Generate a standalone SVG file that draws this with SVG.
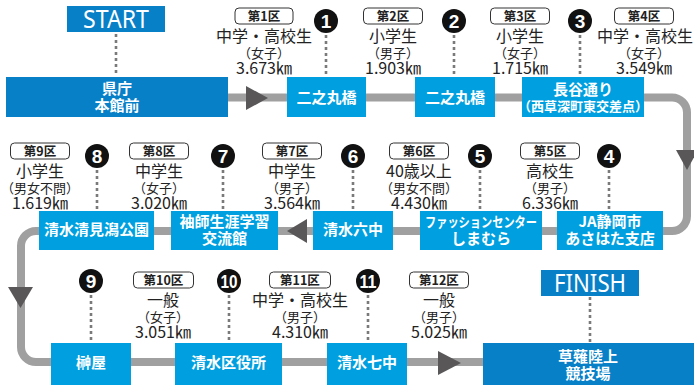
<svg xmlns="http://www.w3.org/2000/svg" width="694" height="385" viewBox="0 0 694 385">
<style>
text{font-family:"Noto Sans CJK JP","Noto Sans",sans-serif;text-anchor:middle}
.dk{fill:#0880C8}
.lt{fill:#00A0E0}
.bt{fill:#fff;font-size:15px;font-weight:bold}
.bt2{font-size:13px}
.tag{fill:#fff;stroke:#333;stroke-width:1}
.lg{fill:#222}
.tagt{font-size:12.5px;font-weight:bold}
.l1{font-size:16px}
.l2{font-size:13px}
.l3{font-size:16px}
.route{fill:none;stroke:#A0A0A0;stroke-width:8}
.dot{stroke:#7a7a7a;stroke-width:2.6;stroke-dasharray:3 3;fill:none}
.arr{fill:#595757}
.cir{fill:#111}
.cn{fill:#fff;font-size:19px;font-weight:bold;font-family:"Liberation Sans",sans-serif}
.big{fill:#fff;font-size:25px;font-family:"Noto Sans","Liberation Sans",sans-serif}
</style>
<rect width="694" height="385" fill="#fff"/>
<g id="connectors">
<path class="route" d="M228,97.5 H672 A15,15 0 0 1 687,112.5 V216 A15,15 0 0 1 672,231 H36 A15,15 0 0 0 21,246 V347 A15,15 0 0 0 36,362 H483"/>
<polygon class="arr" points="246,86 246,110 268,98"/>
<polygon class="arr" points="676,150 698,150 687,170"/>
<polygon class="arr" points="307,219 307,243 287,231"/>
<polygon class="arr" points="8,287 33,287 20.5,308"/>
<polygon class="arr" points="438,351 438,375 461,363"/>
<path class="dot" d="M116,34V76 M326,35V76 M454,35V76 M580,35V76 M97,170V210 M223,170V210 M353,170V210 M480,170V210 M609,170V210 M91,295V342 M229,295V342 M368,295V342 M590,297V342"/>
</g>
<g id="start"><rect class="dk" x="67" y="6" width="98" height="26"/><text class="big" x="116" y="28" textLength="66" lengthAdjust="spacingAndGlyphs">START</text></g>
<g id="finish"><rect class="dk" x="541" y="270" width="98" height="26"/><text class="big" x="590" y="292" textLength="72" lengthAdjust="spacingAndGlyphs">FINISH</text></g>
<g id="n-kencho"><rect class="dk" x="6" y="77" width="222" height="40"/><text class="bt" x="117" y="94">県庁<tspan x="117" y="111">本館前</tspan></text></g>
<g id="n-ninomaru1"><rect class="lt" x="287" y="77" width="79" height="40"/><text class="bt" x="326.5" y="103">二之丸橋</text></g>
<g id="n-ninomaru2"><rect class="lt" x="415" y="77" width="80" height="40"/><text class="bt" x="455" y="103">二之丸橋</text></g>
<g id="n-hasedori"><rect class="lt" x="522" y="77" width="122" height="40"/><text class="bt" x="583" y="95">長谷通り<tspan class="bt2" x="583" y="111">（西草深町東交差点）</tspan></text></g>
<g id="n-kiyomigata"><rect class="lt" x="39" y="211" width="115" height="39"/><text class="bt" x="96.5" y="235">清水清見潟公園</text></g>
<g id="n-sodeshi"><rect class="lt" x="171" y="211" width="107" height="39"/><text class="bt" x="224.5" y="227">袖師生涯学習<tspan x="224.5" y="244">交流館</tspan></text></g>
<g id="n-rokuchu"><rect class="lt" x="313" y="211" width="80" height="39"/><text class="bt" x="353" y="235">清水六中</text></g>
<g id="n-shimamura"><rect class="lt" x="420" y="211" width="122" height="39"/><text class="bt" style="font-size:13.5px" x="481" y="227" textLength="112" lengthAdjust="spacingAndGlyphs">ファッションセンター</text><text class="bt" x="481" y="244">しまむら</text></g>
<g id="n-ja"><rect class="lt" x="557" y="211" width="106" height="39"/><text class="bt" x="610" y="227">JA静岡市<tspan x="610" y="244">あさはた支店</tspan></text></g>
<g id="n-sakakiya"><rect class="lt" x="51" y="343" width="80" height="42"/><text class="bt" x="91" y="368">榊屋</text></g>
<g id="n-kuyakusho"><rect class="lt" x="175" y="343" width="107" height="42"/><text class="bt" x="228.5" y="368">清水区役所</text></g>
<g id="n-nanachu"><rect class="lt" x="327" y="343" width="80" height="42"/><text class="bt" x="367" y="368">清水七中</text></g>
<g id="n-kusanagi"><rect class="dk" x="483" y="343" width="211" height="42"/><text class="bt" x="588" y="362">草薙陸上<tspan x="588" y="379">競技場</tspan></text></g>
<g id="markers">
<circle class="cir" cx="326" cy="21" r="12"/><text class="cn" x="326" y="28">1</text>
<circle class="cir" cx="454" cy="21" r="12"/><text class="cn" x="454" y="28">2</text>
<circle class="cir" cx="580" cy="21" r="12"/><text class="cn" x="580" y="28">3</text>
<circle class="cir" cx="609" cy="156" r="12"/><text class="cn" x="609" y="163">4</text>
<circle class="cir" cx="480" cy="156" r="12"/><text class="cn" x="480" y="163">5</text>
<circle class="cir" cx="353" cy="156" r="12"/><text class="cn" x="353" y="163">6</text>
<circle class="cir" cx="223" cy="156" r="12"/><text class="cn" x="223" y="163">7</text>
<circle class="cir" cx="97" cy="156" r="12"/><text class="cn" x="97" y="163">8</text>
<circle class="cir" cx="91" cy="281" r="12"/><text class="cn" x="91" y="288">9</text>
<circle class="cir" cx="229" cy="281" r="12"/><text class="cn" x="229" y="288" textLength="17" lengthAdjust="spacingAndGlyphs">10</text>
<circle class="cir" cx="368" cy="281" r="12"/><text class="cn" x="368" y="288" textLength="17" lengthAdjust="spacingAndGlyphs">11</text>
</g>
<g id="leg1"><rect class="tag" x="235" y="8" width="58" height="16" rx="4"/><text class="lg" x="264" y="21"><tspan class="tagt">第1区</tspan><tspan class="l1" x="264" y="42">中学・高校生</tspan><tspan class="l2" x="264" y="58">（女子）</tspan><tspan class="l3" x="264" y="74">3.673㎞</tspan></text></g>
<g id="leg2"><rect class="tag" x="363.5" y="8" width="59" height="16" rx="4"/><text class="lg" x="393" y="21"><tspan class="tagt">第2区</tspan><tspan class="l1" x="393" y="42">小学生</tspan><tspan class="l2" x="393" y="58">（男子）</tspan><tspan class="l3" x="393" y="74">1.903㎞</tspan></text></g>
<g id="leg3"><rect class="tag" x="490.5" y="8" width="59" height="16" rx="4"/><text class="lg" x="520" y="21"><tspan class="tagt">第3区</tspan><tspan class="l1" x="520" y="42">小学生</tspan><tspan class="l2" x="520" y="58">（女子）</tspan><tspan class="l3" x="520" y="74">1.715㎞</tspan></text></g>
<g id="leg4"><rect class="tag" x="614.5" y="8" width="59" height="16" rx="4"/><text class="lg" x="644" y="21"><tspan class="tagt">第4区</tspan><tspan class="l1" x="645" y="42">中学・高校生</tspan><tspan class="l2" x="644" y="58">（女子）</tspan><tspan class="l3" x="644" y="74">3.549㎞</tspan></text></g>
<g id="leg5"><rect class="tag" x="520.5" y="143" width="59" height="16" rx="4"/><text class="lg" x="550" y="156"><tspan class="tagt">第5区</tspan><tspan class="l1" x="550" y="177">高校生</tspan><tspan class="l2" x="550" y="193">（男子）</tspan><tspan class="l3" x="550" y="209">6.336㎞</tspan></text></g>
<g id="leg6"><rect class="tag" x="389.5" y="143" width="59" height="16" rx="4"/><text class="lg" x="419" y="156"><tspan class="tagt">第6区</tspan><tspan class="l1" x="419" y="177">40歳以上</tspan><tspan class="l2" x="419" y="193">（男女不問）</tspan><tspan class="l3" x="419" y="209">4.430㎞</tspan></text></g>
<g id="leg7"><rect class="tag" x="262.5" y="143" width="59" height="16" rx="4"/><text class="lg" x="292" y="156"><tspan class="tagt">第7区</tspan><tspan class="l1" x="292" y="177">中学生</tspan><tspan class="l2" x="292" y="193">（男子）</tspan><tspan class="l3" x="292" y="209">3.564㎞</tspan></text></g>
<g id="leg8"><rect class="tag" x="129.5" y="143" width="59" height="16" rx="4"/><text class="lg" x="159" y="156"><tspan class="tagt">第8区</tspan><tspan class="l1" x="159" y="177">中学生</tspan><tspan class="l2" x="159" y="193">（女子）</tspan><tspan class="l3" x="159" y="209">3.020㎞</tspan></text></g>
<g id="leg9"><rect class="tag" x="10.5" y="143" width="59" height="16" rx="4"/><text class="lg" x="40" y="156"><tspan class="tagt">第9区</tspan><tspan class="l1" x="40" y="177">小学生</tspan><tspan class="l2" x="40" y="193">（男女不問）</tspan><tspan class="l3" x="40" y="209">1.619㎞</tspan></text></g>
<g id="leg10"><rect class="tag" x="133.5" y="272" width="60" height="16" rx="4"/><text class="lg" x="163.5" y="285"><tspan class="tagt">第10区</tspan><tspan class="l1" x="163" y="306">一般</tspan><tspan class="l2" x="163" y="322">（女子）</tspan><tspan class="l3" x="163" y="338">3.051㎞</tspan></text></g>
<g id="leg11"><rect class="tag" x="269.5" y="272" width="61" height="16" rx="4"/><text class="lg" x="300" y="285"><tspan class="tagt">第11区</tspan><tspan class="l1" x="300" y="306">中学・高校生</tspan><tspan class="l2" x="300" y="322">（男子）</tspan><tspan class="l3" x="300" y="338">4.310㎞</tspan></text></g>
<g id="leg12"><rect class="tag" x="409.5" y="272" width="59" height="16" rx="4"/><text class="lg" x="439" y="285"><tspan class="tagt">第12区</tspan><tspan class="l1" x="439" y="306">一般</tspan><tspan class="l2" x="439" y="322">（男子）</tspan><tspan class="l3" x="439" y="338">5.025㎞</tspan></text></g>
</svg>
